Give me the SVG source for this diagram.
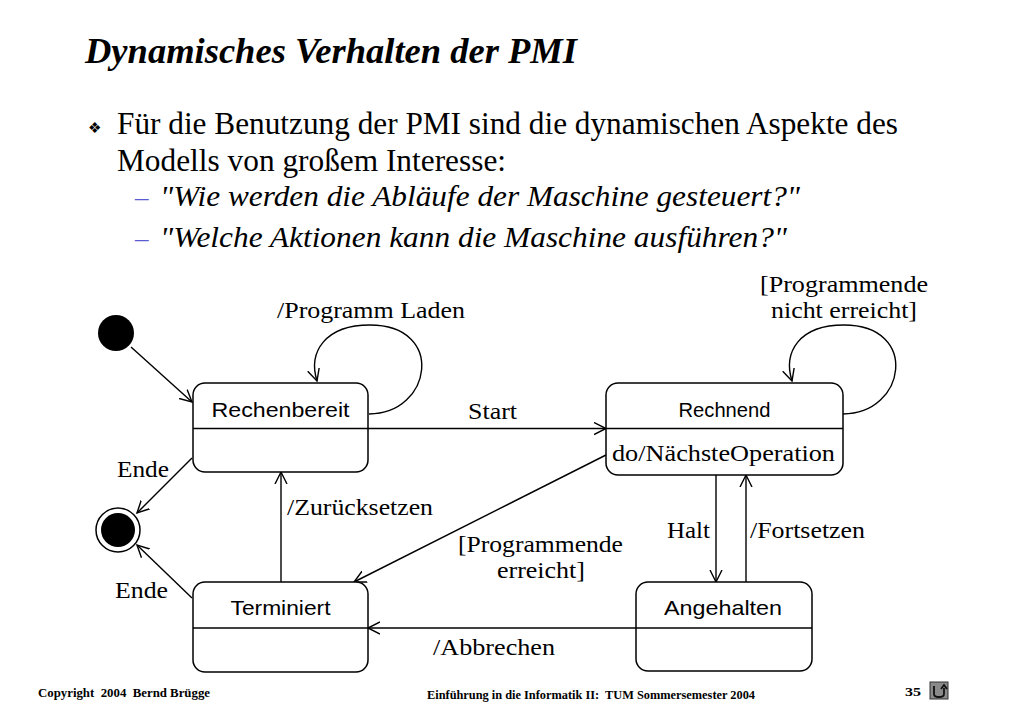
<svg xmlns="http://www.w3.org/2000/svg" width="1023" height="708" viewBox="0 0 1023 708">
<style>
.serif{font-family:"Liberation Serif","Times New Roman",serif;fill:#000}
.sans{font-family:"Liberation Sans",Arial,sans-serif;fill:#000}
.lbl{font-size:24px}
.st{font-size:21px}
.box{fill:#fff;stroke:#000;stroke-width:1.5}
.div{stroke:#000;stroke-width:1.5}
.con{fill:none;stroke:#000;stroke-width:1.4;marker-end:url(#arr)}
.foot{font-family:"Liberation Serif","Times New Roman",serif;font-weight:bold;font-size:13px}
.dash{font-family:"Liberation Serif","Times New Roman",serif;font-size:27px;fill:#5a5ad2}
</style>
<defs>
<marker id="arr" markerUnits="userSpaceOnUse" markerWidth="14" markerHeight="14" refX="12" refY="6" orient="auto" viewBox="0 0 14 12">
<path d="M0,0 L12,6 L0,12" fill="none" stroke="#000" stroke-width="1.4"/>
</marker>
</defs>
<rect width="1023" height="708" fill="#fff"/>

<g id="title">
<text class="serif" x="85" y="63" font-size="35" font-weight="bold" font-style="italic" textLength="492" lengthAdjust="spacingAndGlyphs">Dynamisches Verhalten der PMI</text>
</g>
<g id="bullets">
<text x="88" y="133" font-family="DejaVu Sans,sans-serif" font-size="15">❖</text>
<text class="serif" x="117" y="134" font-size="31" textLength="781" lengthAdjust="spacingAndGlyphs">Für die Benutzung der PMI sind die dynamischen Aspekte des</text>
<text class="serif" x="117" y="171" font-size="31" textLength="389" lengthAdjust="spacingAndGlyphs">Modells von großem Interesse:</text>
<text class="dash" x="135" y="206">–</text>
<text class="serif" x="160" y="206" font-size="30" font-style="italic" textLength="640" lengthAdjust="spacingAndGlyphs">"Wie werden die Abläufe der Maschine gesteuert?"</text>
<text class="dash" x="135" y="247">–</text>
<text class="serif" x="160" y="247" font-size="30" font-style="italic" textLength="627" lengthAdjust="spacingAndGlyphs">"Welche Aktionen kann die Maschine ausführen?"</text>
</g>

<g id="connectors">
<path class="con" d="M131,347 L192,402"/>
<path class="con" d="M369,414 C432,414 446,325 370,325 C325,325 308,352 317,381"/>
<path class="con" d="M368,428.5 L606,428.5"/>
<path class="con" d="M843,414 C906,414 920,325 844,325 C799,325 783,352 792,381"/>
<path class="con" d="M192,458 L137,513"/>
<path class="con" d="M192,598 L137,545"/>
<path class="con" d="M281,582 L281,472"/>
<path class="con" d="M606,455 L354,582"/>
<path class="con" d="M716,475 L716,582"/>
<path class="con" d="M746,582 L746,475"/>
<path class="con" d="M636,628 L368,628"/>
</g>

<g id="labels">
<text class="serif lbl" x="277" y="318" textLength="188" lengthAdjust="spacingAndGlyphs">/Programm Laden</text>
<text class="serif lbl" x="844" y="292" text-anchor="middle" textLength="168" lengthAdjust="spacingAndGlyphs">[Programmende</text>
<text class="serif lbl" x="844" y="318" text-anchor="middle" textLength="146" lengthAdjust="spacingAndGlyphs">nicht erreicht]</text>
<text class="serif lbl" x="468" y="419" textLength="49" lengthAdjust="spacingAndGlyphs">Start</text>
<text class="serif lbl" x="117" y="477" textLength="52" lengthAdjust="spacingAndGlyphs">Ende</text>
<text class="serif lbl" x="287" y="515" textLength="146" lengthAdjust="spacingAndGlyphs">/Zurücksetzen</text>
<text class="serif lbl" x="458" y="552" textLength="165" lengthAdjust="spacingAndGlyphs">[Programmende</text>
<text class="serif lbl" x="497" y="578" textLength="88" lengthAdjust="spacingAndGlyphs">erreicht]</text>
<text class="serif lbl" x="667" y="538" textLength="43" lengthAdjust="spacingAndGlyphs">Halt</text>
<text class="serif lbl" x="750" y="538" textLength="115" lengthAdjust="spacingAndGlyphs">/Fortsetzen</text>
<text class="serif lbl" x="115" y="598" textLength="53" lengthAdjust="spacingAndGlyphs">Ende</text>
<text class="serif lbl" x="433" y="655" textLength="122" lengthAdjust="spacingAndGlyphs">/Abbrechen</text>
</g>

<g id="initial">
<circle cx="116" cy="333" r="18" fill="#000"/>
</g>
<g id="final">
<circle cx="118" cy="530" r="22" fill="#fff" stroke="#000" stroke-width="1.5"/>
<circle cx="118" cy="530" r="17" fill="#000"/>
</g>

<g id="rechenbereit">
<rect class="box" x="193" y="383" width="175" height="89" rx="12"/>
<line class="div" x1="193" y1="428.5" x2="368" y2="428.5"/>
<text class="sans st" x="280.5" y="417" text-anchor="middle" textLength="138" lengthAdjust="spacingAndGlyphs">Rechenbereit</text>
</g>
<g id="rechnend">
<rect class="box" x="606" y="383" width="237" height="92" rx="12"/>
<line class="div" x1="606" y1="428.5" x2="843" y2="428.5"/>
<text class="sans st" x="724.5" y="417" text-anchor="middle" textLength="92" lengthAdjust="spacingAndGlyphs">Rechnend</text>
<text class="serif lbl" x="612" y="461" textLength="223" lengthAdjust="spacingAndGlyphs">do/NächsteOperation</text>
</g>
<g id="terminiert">
<rect class="box" x="193" y="582" width="175" height="90" rx="12"/>
<line class="div" x1="193" y1="628" x2="368" y2="628"/>
<text class="sans st" x="280.5" y="615" text-anchor="middle" textLength="100" lengthAdjust="spacingAndGlyphs">Terminiert</text>
</g>
<g id="angehalten">
<rect class="box" x="636" y="582" width="176" height="89" rx="12"/>
<line class="div" x1="636" y1="628" x2="812" y2="628"/>
<text class="sans st" x="723" y="615" text-anchor="middle" textLength="118" lengthAdjust="spacingAndGlyphs">Angehalten</text>
</g>

<g id="footer">
<text class="foot" x="38" y="697" textLength="172" lengthAdjust="spacingAndGlyphs">Copyright&#160; 2004&#160; Bernd Brügge</text>
<text class="foot" x="427" y="699" textLength="328" lengthAdjust="spacingAndGlyphs">Einführung in die Informatik II:&#160; TUM Sommersemester 2004</text>
<text class="foot" x="905" y="696" font-size="15" textLength="16" lengthAdjust="spacingAndGlyphs">35</text>
<rect x="930" y="682" width="18" height="17" fill="#8a8a8a" stroke="#333" stroke-width="1"/>
<path d="M934,686 L934,694 Q934,697 939,697 Q944,697 944,694 L944,688 M941,689 L944,685 L947,689" fill="none" stroke="#111" stroke-width="1.8"/>
</g>
</svg>
